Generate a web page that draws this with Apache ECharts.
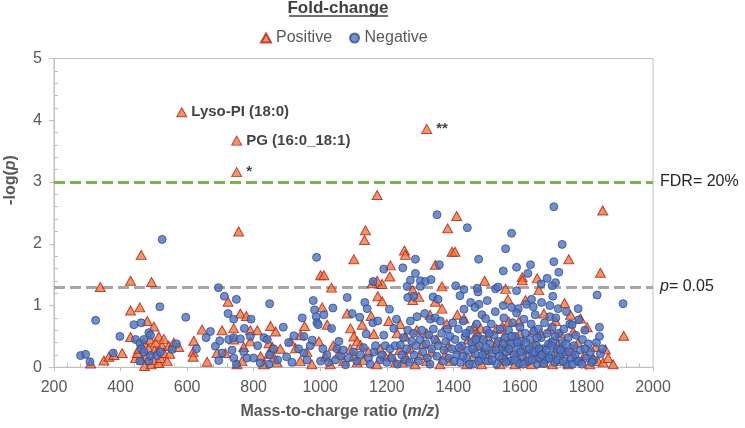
<!DOCTYPE html>
<html>
<head>
<meta charset="utf-8">
<script src="https://cdn.jsdelivr.net/npm/echarts@6.0.0/dist/echarts.min.js"></script>
<style>
  html, body { margin: 0; padding: 0; background: #fff; }
  #chart { width: 745px; height: 428px; }
</style>
</head>
<body>
<div id="chart"></div>
<script>
// axis ticks
const xTicks = { min: 200, max: 2000, step: 200 };
const yTicks = { min: 0, max: 5, step: 1 };

// thresholds (-log p)
const fdrLine = 3.0;
const pLine = 1.301;

// labelled hits  [m/z, -log(p), text]
const annotated = [
  [584, 4.13, 'Lyso-PI (18:0)'],
  [749, 3.67, 'PG (16:0_18:1)'],
  [749, 3.16, '*'],
  [1320, 3.86, '**']
];

// positive fold-change, m/z < 800
const posLow = [
  [310,0.06],[339,1.30],[350,0.11],[365,0.17],[380,0.20],[405,0.23],[430,1.40],[430,0.92],
  [430,0.49],[445,0.15],[450,0.23],[455,0.30],[458,0.97],[462,1.82],[465,0.12],[470,0.40],
  [472,0.02],[478,0.18],[480,0.75],[485,0.30],[488,0.45],[492,0.05],[493,1.38],[498,0.12],
  [500,0.66],[502,0.28],[505,0.40],[510,0.25],[515,0.50],[515,0.07],[520,0.15],[525,0.35],
  [530,0.46],[530,0.23],[540,0.10],[545,0.35],[548,0.22],[560,0.40],[575,0.33],[618,0.25],
  [618,0.17],[620,0.43],[645,0.61],[660,0.09],[690,0.23],[705,0.60],[715,0.23],[723,1.06],
  [740,0.63],[740,0.45],[750,0.05],[755,2.20],[760,0.87],[765,0.10],[770,0.33],[778,0.83],
  [790,0.60],[790,0.42]
];

// positive fold-change, m/z 800-1400
const posMid = [
  [1171,2.79],[1136,2.22],[1133,2.06],[1383,2.25],[1396,1.87],[1253,1.89],[1256,1.82],[1101,1.75],
  [1346,1.66],[1211,1.65],[1209,1.47],[1001,1.49],[1011,1.49],[1034,1.29],[1186,1.35],[1156,1.36],
  [1171,1.40],[1366,1.31],[1173,1.15],[1186,1.07],[1278,1.25],[1278,1.09],[1296,1.14],[1346,1.06],
  [1366,0.95],[1006,0.97],[1081,0.87],[1153,0.83],[1126,0.69],[1091,0.63],[1206,0.75],[1231,0.55],
  [1256,0.50],[851,0.67],[866,0.58],[811,0.60],[953,0.67],[1021,0.69],[941,0.52],[911,0.42],
  [926,0.31],[996,0.42],[1039,0.35],[1101,0.50],[1111,0.42],[1161,0.54],[1121,0.36],[846,0.39],
  [856,0.33],[846,0.22],[861,0.16],[821,0.18],[1101,0.18],[1111,0.08],[1239,0.28],[1211,0.18],
  [1226,0.08],[1246,0.08],[830,0.05],[870,0.08],[880,0.30],[940,0.10],[960,0.25],[975,0.05],
  [1015,0.18],[1030,0.05],[1055,0.22],[1070,0.10],[1090,0.30],[1130,0.12],[1145,0.25],[1170,0.05],
  [1180,0.30],[1195,0.18],[1260,0.15],[1270,0.30],[1285,0.05],[1300,0.20],[1310,0.38],[1320,0.10],
  [1335,0.25],[1350,0.45],[1360,0.05],[1375,0.20],[1385,0.35],[1392,0.10],[1290,0.60],[1320,0.55],
  [1380,0.70],[1240,0.70],[1330,0.85]
];

// positive fold-change, m/z > 1400
const posHigh = [
  [1849,2.54],[1410,2.45],[1405,1.87],[1747,1.75],[1842,1.53],[1607,1.46],[1607,1.41],[1652,1.44],
  [1494,1.40],[1557,1.27],[1657,1.25],[1564,1.10],[1734,1.04],[1672,0.87],[1802,0.65],[1912,0.51],
  [1857,0.29],[1547,0.66],[1567,0.74],[1597,0.74],[1462,0.66],[1482,0.63],[1432,0.79],[1412,0.85],
  [1502,0.50],[1552,0.50],[1617,1.09],[1752,0.85],[1782,0.79],[1827,0.33],[1707,0.75],[1722,0.55],
  [1662,0.55],[1532,0.40],[1557,0.35],[1577,0.45],[1420,0.30],[1440,0.05],[1445,0.45],[1460,0.18],
  [1472,0.35],[1485,0.05],[1495,0.22],[1510,0.12],[1520,0.30],[1540,0.05],[1545,0.20],[1560,0.12],
  [1572,0.28],[1585,0.05],[1590,0.18],[1605,0.30],[1615,0.10],[1625,0.22],[1635,0.05],[1642,0.38],
  [1650,0.15],[1662,0.28],[1670,0.08],[1680,0.20],[1690,0.40],[1698,0.05],[1705,0.25],[1715,0.38],
  [1725,0.10],[1735,0.22],[1745,0.05],[1755,0.30],[1765,0.15],[1775,0.40],[1785,0.10],[1795,0.20],
  [1810,0.05],[1820,0.15],[1835,0.10],[1850,0.08],[1865,0.15],[1880,0.05],[1600,0.55],[1640,0.60],
  [1690,0.62],[1760,0.58],[1530,0.62],[1470,0.55]
];

// negative fold-change, m/z < 800
const negLow = [
  [280,0.19],[295,0.21],[308,0.09],[325,0.76],[378,0.23],[398,0.50],[440,0.69],[445,0.45],
  [458,0.39],[458,0.10],[462,0.72],[462,0.30],[470,0.25],[470,0.45],[485,0.56],[485,0.10],
  [490,0.52],[490,0.19],[510,0.19],[518,0.98],[520,0.25],[525,2.07],[555,0.29],[568,0.38],
  [596,0.81],[628,0.30],[657,0.48],[670,0.58],[685,0.34],[694,1.29],[695,0.11],[698,0.43],
  [705,0.23],[712,1.15],[723,0.87],[725,0.45],[735,0.28],[740,0.78],[740,0.15],[740,0.48],
  [748,1.10],[748,0.05],[760,0.46],[770,0.25],[772,0.63],[780,0.15],[790,0.50],[792,0.78]
];

// negative fold-change, m/z 800-1400
const negMid = [
  [1351,2.47],[989,1.78],[1286,1.75],[1191,1.59],[1248,1.61],[1286,1.52],[1358,1.66],[1159,1.39],
  [1271,1.41],[1301,1.40],[1316,1.39],[1333,1.42],[1261,1.31],[1301,1.31],[1081,1.13],[979,1.08],
  [848,1.03],[1263,1.13],[1281,1.15],[1339,1.14],[1354,1.10],[1134,1.05],[1141,0.95],[1038,0.96],
  [1208,0.94],[800,0.15],[812,0.35],[820,0.07],[831,0.48],[841,0.45],[846,0.05],[848,0.20],
  [860,0.30],[872,0.12],[889,0.65],[899,0.17],[905,0.40],[915,0.08],[921,0.51],[935,0.30],
  [946,0.80],[951,0.50],[951,0.23],[960,0.12],[970,0.35],[976,0.44],[983,0.93],[988,0.82],
  [990,0.72],[994,0.69],[1001,0.10],[1008,0.30],[1011,0.85],[1020,0.20],[1025,0.08],[1034,0.63],
  [1046,0.12],[1050,0.30],[1056,0.42],[1062,0.18],[1069,0.28],[1076,0.04],[1085,0.15],[1096,0.87],
  [1100,0.25],[1110,0.10],[1119,0.81],[1121,0.20],[1130,0.32],[1138,0.54],[1145,0.15],[1150,0.05],
  [1158,0.72],[1162,0.25],[1166,0.35],[1173,0.75],[1180,0.12],[1185,0.20],[1191,0.52],[1195,0.35],
  [1200,0.08],[1210,0.30],[1215,0.15],[1221,0.63],[1225,0.35],[1229,0.78],[1232,0.05],[1241,0.36],
  [1245,0.20],[1250,0.48],[1255,0.12],[1260,0.30],[1263,0.60],[1268,0.08],[1271,0.75],[1275,0.42],
  [1280,0.55],[1282,0.20],[1288,0.35],[1291,0.82],[1295,0.10],[1300,0.45],[1305,0.60],[1308,0.25],
  [1314,0.87],[1318,0.38],[1322,0.15],[1326,0.52],[1330,0.05],[1331,0.78],[1335,0.30],[1340,0.62],
  [1344,0.45],[1346,0.80],[1350,0.18],[1355,0.35],[1361,0.75],[1365,0.55],[1368,0.10],[1372,0.28],
  [1378,0.42],[1382,0.62],[1386,0.15],[1390,0.50],[1395,0.30],[1398,0.72]
];

// negative fold-change, m/z > 1400
const negHigh = [
  [1702,2.60],[1442,2.26],[1575,2.17],[1727,1.99],[1557,1.92],[1476,1.75],[1702,1.71],[1632,1.66],
  [1590,1.62],[1550,1.56],[1717,1.54],[1624,1.52],[1682,1.44],[1707,1.37],[1664,1.35],[1697,1.32],
  [1407,1.32],[1432,1.26],[1527,1.27],[1534,1.30],[1590,1.24],[1474,1.22],[1472,1.28],[1420,1.16],
  [1832,1.17],[1910,1.03],[1699,1.15],[1635,1.10],[1502,1.08],[1477,1.02],[1452,1.05],[1465,0.97],
  [1432,0.94],[1550,1.00],[1575,0.97],[1595,0.95],[1620,1.02],[1640,0.98],[1665,1.05],[1690,1.00],
  [1715,0.95],[1740,0.90],[1775,0.95],
  [1405,0.45],[1410,0.20],[1415,0.62],[1420,0.08],[1425,0.35],[1430,0.75],[1435,0.50],[1440,0.15],
  [1445,0.28],[1450,0.60],[1455,0.40],[1460,0.05],[1465,0.22],[1470,0.70],[1474,0.50],[1478,0.35],
  [1482,0.12],[1486,0.85],[1490,0.45],[1494,0.25],[1497,0.79],[1500,0.60],[1505,0.10],[1510,0.38],
  [1514,0.70],[1518,0.22],[1522,0.52],[1526,0.90],[1530,0.05],[1535,0.42],[1540,0.62],[1545,0.30],
  [1548,0.15],[1552,0.80],[1556,0.48],[1560,0.25],[1566,0.60],[1570,0.10],[1574,0.38],[1578,0.72],
  [1582,0.20],[1586,0.50],[1590,0.88],[1594,0.32],[1597,0.06],[1600,0.65],[1604,0.42],[1608,0.18],
  [1612,0.78],[1616,0.55],[1620,0.28],[1626,0.10],[1630,0.45],[1634,0.70],[1638,0.22],[1642,0.58],
  [1646,0.85],[1650,0.35],[1653,0.05],[1656,0.62],[1660,0.15],[1664,0.48],[1670,0.30],[1674,0.72],
  [1678,0.12],[1682,0.55],[1686,0.38],[1690,0.82],[1694,0.20],[1697,0.65],[1700,0.42],[1704,0.08],
  [1708,0.80],[1712,0.30],[1716,0.55],[1720,0.18],[1728,0.40],[1732,0.62],[1736,0.25],[1740,0.05],
  [1745,0.48],[1750,0.70],[1754,0.15],[1757,0.69],[1762,0.35],[1768,0.52],[1772,0.10],[1777,0.77],
  [1782,0.28],[1788,0.45],[1795,0.60],[1800,0.15],[1806,0.38],[1812,0.25],[1822,0.12],[1830,0.40],
  [1839,0.65],[1839,0.50],[1842,0.22],[1848,0.30],
  [1402,0.10],[1418,0.32],[1428,0.18],[1438,0.55],[1448,0.05],[1458,0.30],[1468,0.45],[1476,0.10],
  [1488,0.20],[1498,0.32],[1508,0.55],[1516,0.12],[1528,0.28],[1538,0.18],[1550,0.38],[1558,0.08],
  [1568,0.30],[1576,0.50],[1584,0.12],[1592,0.40],[1602,0.25],[1610,0.05],[1618,0.40],[1628,0.30],
  [1636,0.12],[1644,0.25],[1652,0.48],[1658,0.30],[1666,0.20],[1672,0.06],[1680,0.28],[1688,0.15],
  [1696,0.35],[1706,0.50],[1714,0.12],[1722,0.28],[1730,0.10],[1738,0.38],[1748,0.25],[1758,0.05],
  [1766,0.20],[1776,0.10],[1786,0.05],[1796,0.30],[1816,0.08]
];

const FONT = '"Liberation Sans", Arial, Helvetica, sans-serif';
const AXIS_GREY = '#BFBFBF';
const TEXT_GREY = '#595959';

const chart = echarts.init(document.getElementById('chart'));

const positives = posLow.concat(posMid, posHigh);
const negatives = negLow.concat(negMid, negHigh);
const labelled = annotated.map(a => ({
  value: [a[0], a[1]],
  label: {
    show: true, position: 'right', distance: 4, formatter: a[2],
    color: '#111', fontWeight: 'bold', fontSize: 15, fontFamily: FONT
  }
}));

function mainX() {
  return {
    type: 'value', min: xTicks.min, max: xTicks.max, interval: xTicks.step,
    axisLine: { lineStyle: { color: AXIS_GREY } },
    axisTick: { length: 4, lineStyle: { color: AXIS_GREY } },
    axisLabel: { color: TEXT_GREY, fontSize: 16, fontFamily: FONT, margin: 12, formatter: v => String(v) },
    splitLine: { show: false }
  };
}
function mainY() {
  return {
    type: 'value', min: yTicks.min, max: yTicks.max, interval: yTicks.step,
    axisLine: { show: true, lineStyle: { color: AXIS_GREY } },
    axisTick: { show: true, length: 5, lineStyle: { color: AXIS_GREY } },
    axisLabel: { color: TEXT_GREY, fontSize: 16, fontFamily: FONT, margin: 12 },
    splitLine: { show: false }
  };
}
// overlay axes that only carry the inward minor ticks
function minorAxis(base, pos) {
  return Object.assign(base, {
    position: pos,
    axisLine: { show: false },
    axisLabel: { show: false },
    axisTick: { show: false, inside: true },
    minorTick: { show: true, splitNumber: 5, length: 4, lineStyle: { color: AXIS_GREY } }
  });
}

chart.setOption({
  animation: false,
  backgroundColor: '#fff',
  grid: { left: 54, right: 92, top: 58.5, bottom: 60.7, show: true, borderColor: AXIS_GREY, borderWidth: 1 },
  legend: {
    left: 255, top: 25,
    itemWidth: 10, itemHeight: 9, itemGap: 17,
    textStyle: { color: TEXT_GREY, fontSize: 16, fontFamily: FONT },
    data: ['Positive', 'Negative']
  },
  graphic: [
    { type: 'text', x: 338, y: 8,
      style: { text: 'Fold-change', align: 'center', verticalAlign: 'middle',
        fill: '#404040', font: 'bold 17px ' + FONT } },
    { type: 'line', shape: { x1: 289, y1: 16, x2: 388, y2: 16 }, style: { stroke: '#404040', lineWidth: 1.5 } },
    { type: 'text', x: 11, y: 180, rotation: Math.PI / 2,
      style: { text: '-log({i|p})', align: 'center', verticalAlign: 'middle',
        fill: TEXT_GREY, font: 'bold 16px ' + FONT,
        rich: { i: { fontStyle: 'italic', fontWeight: 'bold', fontSize: 16, fontFamily: FONT, fill: TEXT_GREY } } } },
    { type: 'text', x: 340, y: 412,
      style: { text: 'Mass-to-charge ratio ({i|m/z})', align: 'center', verticalAlign: 'middle',
        fill: TEXT_GREY, font: 'bold 16px ' + FONT,
        rich: { i: { fontStyle: 'italic', fontWeight: 'bold', fontSize: 16, fontFamily: FONT, fill: TEXT_GREY } } } }
  ],
  xAxis: [mainX(), minorAxis(mainX(), 'bottom')],
  yAxis: [mainY(), minorAxis(mainY(), 'left')],
  series: [
    {
      type: 'scatter', data: [], z: 1, silent: true,
      markLine: {
        silent: true, z: 1, symbol: ['none', 'none'],
        label: { position: 'end', distance: 7, fontSize: 16, fontFamily: FONT, color: '#262626' },
        data: [
          { yAxis: fdrLine, lineStyle: { color: '#7AB54A', width: 3, type: [11, 5] },
            label: { formatter: 'FDR= 20%' } },
          { yAxis: pLine, lineStyle: { color: '#A6A6A6', width: 3, type: [11, 5] },
            label: { formatter: '{i|p}= 0.05', rich: { i: { fontStyle: 'italic', fontSize: 16, fontFamily: FONT, color: '#262626' } } } }
        ]
      }
    },
    {
      name: 'Positive', type: 'scatter', symbol: 'triangle', symbolSize: [10, 9], z: 2,
      itemStyle: { color: '#EC7C3A', borderColor: '#B3191A', borderWidth: 1 },
      data: positives.concat(labelled)
    },
    {
      name: 'Negative', type: 'scatter', symbol: 'circle', symbolSize: 8, z: 3,
      itemStyle: { color: '#4F72BE', borderColor: '#2F4E8E', borderWidth: 1 },
      data: negatives
    }
  ]
});
</script>
</body>
</html>
